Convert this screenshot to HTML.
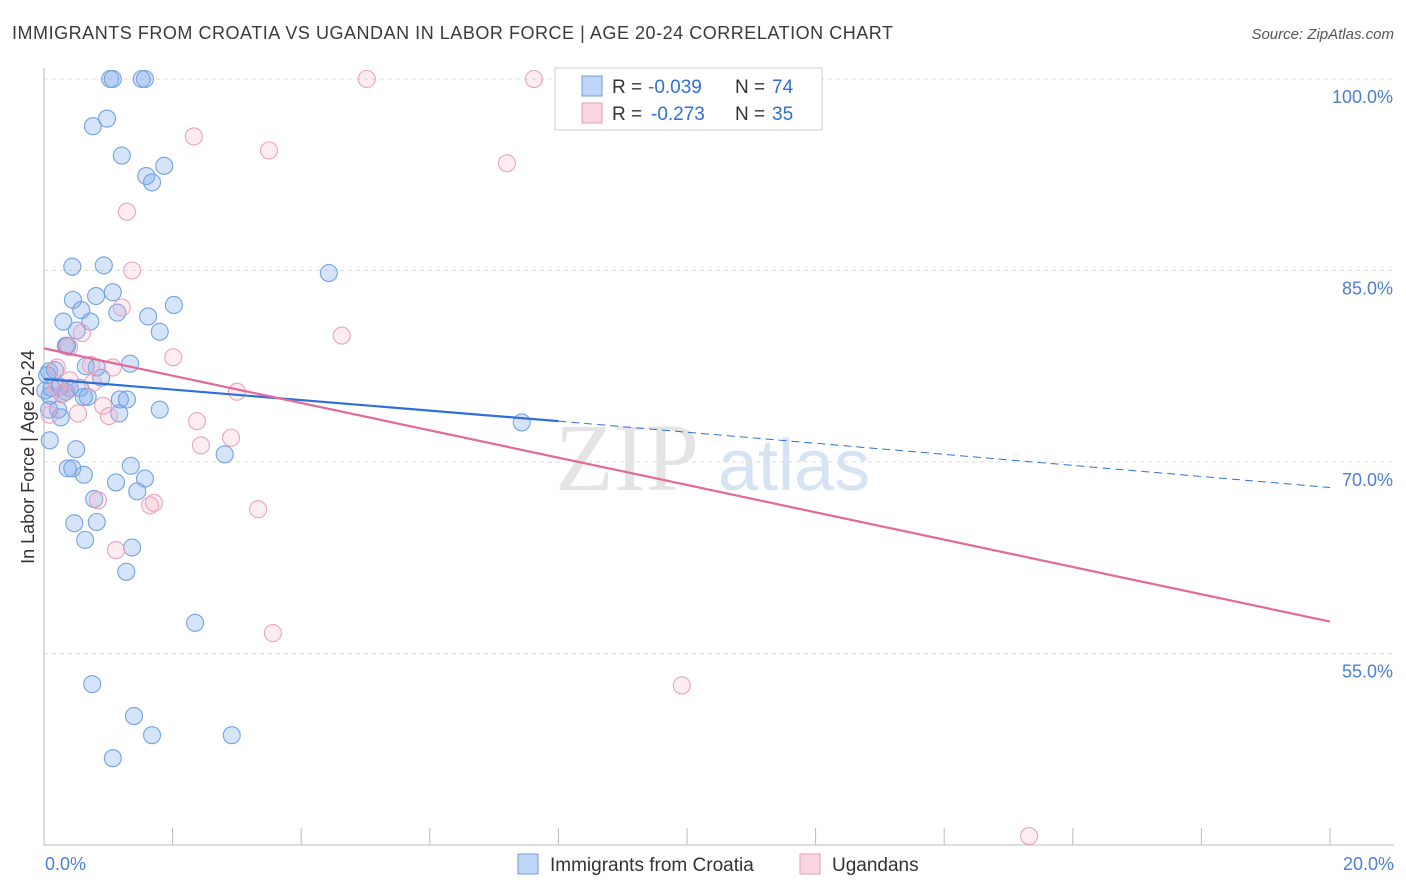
<!DOCTYPE html>
<html><head><meta charset="utf-8"><style>
body{margin:0;background:#fff;font-family:"Liberation Sans",sans-serif;}
svg{display:block}
</style></head><body>
<svg id="chart" width="1406" height="892" xmlns="http://www.w3.org/2000/svg">
<text x="12" y="39" font-size="18" fill="#3a3a3a" textLength="881" lengthAdjust="spacing">IMMIGRANTS FROM CROATIA VS UGANDAN IN LABOR FORCE | AGE 20-24 CORRELATION CHART</text>
<text x="1394" y="39" font-size="15" fill="#555" font-style="italic" text-anchor="end">Source: ZipAtlas.com</text>
<text x="555" y="490" font-size="96" fill="#e4e4e4" font-family="Liberation Serif,serif">ZIP</text>
<text x="718" y="490" font-size="72" fill="#d6e3f3">atlas</text>
<g id="grid"></g>
<g id="axes"></g>
<g id="points"></g>
<g id="lines"></g>
<text transform="translate(34,457) rotate(-90)" font-size="18" fill="#333" text-anchor="middle">In Labor Force | Age 20-24</text>
<g>
<rect x="555" y="68" width="267" height="62" fill="#fff" stroke="#ccc"/>
<rect x="582" y="76" width="20" height="20" fill="rgba(100,150,230,0.4)" stroke="#6a9be0"/>
<text x="612" y="93" font-size="19" fill="#333">R =</text>
<text x="648" y="93" font-size="19" fill="#2e6fd8">-0.039</text>
<text x="735" y="93" font-size="19" fill="#333">N =</text>
<text x="772" y="93" font-size="19" fill="#2e6fd8">74</text>
<rect x="582" y="103" width="20" height="20" fill="rgba(240,150,180,0.4)" stroke="#e89ab5"/>
<text x="612" y="120" font-size="19" fill="#333">R =</text>
<text x="651" y="120" font-size="19" fill="#2e6fd8">-0.273</text>
<text x="735" y="120" font-size="19" fill="#333">N =</text>
<text x="772" y="120" font-size="19" fill="#2e6fd8">35</text>
</g>
<g>
<rect x="518" y="854" width="20" height="20" fill="rgba(100,150,230,0.4)" stroke="#6a9be0"/>
<text x="550" y="871" font-size="19" fill="#333">Immigrants from Croatia</text>
<rect x="800" y="854" width="20" height="20" fill="rgba(240,150,180,0.4)" stroke="#e89ab5"/>
<text x="832" y="871" font-size="19" fill="#333">Ugandans</text>
</g>
</svg>
<script>
const yTicks=[100,85,70,55];
const yTickLabels=["100.0%","85.0%","70.0%","55.0%"];
const xTicks=[0,2,4,6,8,10,12,14,16,18,20];
const blueX=[1.03,1.07,1.52,1.57,0.76,0.98,1.21,1.59,1.68,1.87,0.44,0.93,4.43,0.45,0.81,1.07,0.58,0.30,0.72,1.14,1.62,2.02,1.80,0.51,0.34,0.36,0.17,0.08,0.65,0.82,0.89,1.34,0.12,0.25,0.56,0.62,0.68,0.09,0.22,0.26,1.18,1.29,1.17,1.80,7.43,0.09,0.50,0.37,0.44,0.62,1.35,1.57,1.12,1.45,0.78,0.47,0.82,0.64,1.37,1.28,2.35,2.81,0.75,1.40,1.68,2.92,1.07,0.02,0.05,0.34,0.40,0.28,0.08];
const blueY=[100,100,100,100,96.3,96.9,94.0,92.4,91.9,93.2,85.3,85.4,84.8,82.7,83.0,83.3,81.9,81.0,81.0,81.7,81.4,82.3,80.2,80.3,79.1,79.1,77.2,77.1,77.5,77.4,76.6,77.7,75.8,75.9,75.8,75.1,75.1,75.2,74.1,73.5,74.9,74.9,73.8,74.1,73.1,71.7,71.0,69.5,69.5,69.0,69.7,68.7,68.4,67.7,67.1,65.2,65.3,63.9,63.3,61.4,57.4,70.6,52.6,50.1,48.6,48.6,46.8,75.6,76.8,75.5,75.8,75.3,74.1];
const pinkX=[5.02,7.62,2.33,3.50,7.20,1.29,1.37,1.21,4.63,0.59,0.39,2.01,0.20,0.73,1.07,0.40,0.76,3.00,0.20,0.28,0.92,0.53,1.01,2.38,2.91,2.44,0.84,1.65,1.71,3.33,1.12,3.56,9.92,15.32,0.09];
const pinkY=[100,100,95.5,94.4,93.4,89.6,85.0,82.1,79.9,80.1,79.0,78.2,77.4,77.6,77.4,76.4,76.2,75.5,75.8,75.3,74.4,73.8,73.6,73.2,71.9,71.3,67.0,66.6,66.8,66.3,63.1,56.6,52.5,40.7,73.7];
const blueTrend=[76.5,73.2,68.0]; // at x=0, 8, 20
const pinkTrend=[78.9,57.5]; // at x=0, 20
const X0=44,X1=1330,Y0=845,Y1=79;
const sx=v=>X0+(v/20)*(X1-X0);
const sy=v=>Y0-(v-40)/60*(Y0-Y1);
const NS="http://www.w3.org/2000/svg";
function mk(tag,attrs,parent){const e=document.createElementNS(NS,tag);for(const k in attrs)e.setAttribute(k,attrs[k]);parent.appendChild(e);return e;}
const grid=document.getElementById('grid'),axes=document.getElementById('axes'),pts=document.getElementById('points'),lines=document.getElementById('lines');
yTicks.forEach((t,i)=>{
 const l=mk('line',{x1:X0,x2:1394,y1:sy(t),y2:sy(t),stroke:'#ddd','stroke-dasharray':'4,4'},grid);
 
 
 const tx=mk('text',{x:1393,y:sy(t)+24,'font-size':18,fill:'#4a7fd4','text-anchor':'end'},grid);
 tx.textContent=yTickLabels[i];
 
 
});
const ya=mk('line',{x1:X0,x2:X0,y1:68,y2:Y0,stroke:'#bbb'},axes);


const xa=mk('line',{x1:X0,x2:1394,y1:Y0,y2:Y0,stroke:'#bbb'},axes);


xTicks.forEach(t=>{
 const l=mk('line',{x1:sx(t),x2:sx(t),y1:828,y2:Y0,stroke:'#bbb'},axes);
 
 
});
const xl0=mk('text',{x:45,y:870,'font-size':18,fill:'#4a7fd4'},axes);xl0.textContent='0.0%';


const xl1=mk('text',{x:1394,y:870,'font-size':18,fill:'#4a7fd4','text-anchor':'end'},axes);xl1.textContent='20.0%';


blueX.forEach((x,i)=>{
 const c=mk('circle',{cx:sx(x),cy:sy(blueY[i]),r:8.5,fill:'rgba(120,165,235,0.3)',stroke:'#74a2e3','stroke-width':1.1},pts);
 
 
});
pinkX.forEach((x,i)=>{
 const c=mk('circle',{cx:sx(x),cy:sy(pinkY[i]),r:8.5,fill:'rgba(245,170,195,0.22)',stroke:'#eaa3bd','stroke-width':1.1},pts);
 
 
});
const b1=mk('line',{x1:sx(0),y1:sy(blueTrend[0]),x2:sx(8),y2:sy(blueTrend[1]),stroke:'#2e6fd8','stroke-width':2.2},lines);


const b2=mk('line',{x1:sx(8),y1:sy(blueTrend[1]),x2:sx(20),y2:sy(blueTrend[2]),stroke:'#2e6fd8','stroke-width':1,'stroke-dasharray':'8,5'},lines);


const p1=mk('line',{x1:sx(0),y1:sy(pinkTrend[0]),x2:sx(20),y2:sy(pinkTrend[1]),stroke:'#e36a98','stroke-width':2.2},lines);


</script>
</body></html>
